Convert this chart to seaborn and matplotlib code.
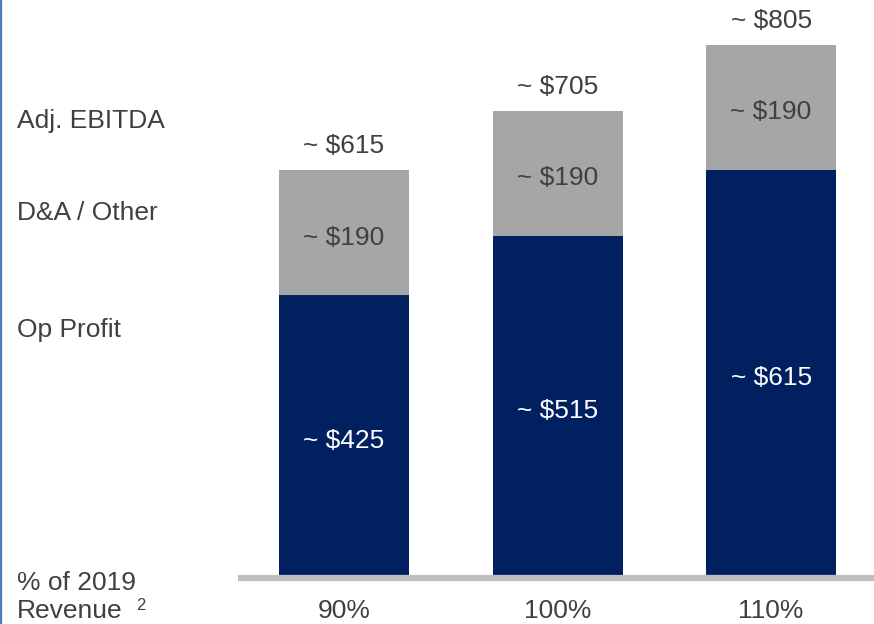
import matplotlib
matplotlib.use("Agg")
import matplotlib.pyplot as plt
import seaborn as sns
import pandas as pd
from matplotlib.lines import Line2D

# Scenario data (in $M)
scenarios = ["90%", "100%", "110%"]
op_profit = [425, 515, 615]
da_other = [190, 190, 190]
ebitda = [615, 705, 805]

row_labels = ["Adj. EBITDA", "D&A / Other", "Op Profit"]

NAVY = "#002060"
GREY = "#A6A6A6"
TEXT = "#404040"

sns.set_theme(style="white")
plt.rcParams["font.family"] = ["Liberation Sans", "DejaVu Sans"]

df = pd.DataFrame({
    "scenario": scenarios,
    "op_profit": op_profit,
    "da_other": da_other,
    "ebitda": [o + d for o, d in zip(op_profit, da_other)],
})

W, H = 874, 624
PX_PER_UNIT = 0.66
fig = plt.figure(figsize=(W / 100, H / 100), dpi=100)
ax_left = 238 / W
ax_bottom = (H - 576) / H
ax = fig.add_axes([ax_left, ax_bottom, 1 - ax_left, 1 - ax_bottom])

bar_w = 0.609
sns.barplot(data=df, x="scenario", y="ebitda", order=scenarios, color=GREY,
            width=bar_w, saturation=1, ax=ax)
sns.barplot(data=df, x="scenario", y="op_profit", order=scenarios, color=NAVY,
            width=bar_w, saturation=1, ax=ax)
for p in ax.patches:
    p.set_edgecolor("none")

ax.set_xlim(-0.4965, 2.482)
ax.set_ylim(0, 576 / PX_PER_UNIT)
ax.set_xlabel("")
ax.set_ylabel("")
ax.set_xticks([])
ax.set_yticks([])
for s in ax.spines.values():
    s.set_visible(False)

fs = 19
nudge = 5 / PX_PER_UNIT  # small downward optical offset for in-bar labels
for i, (op, da, tot) in enumerate(zip(op_profit, da_other, ebitda)):
    ax.text(i, op / 2 - nudge, f"~ ${op}", ha="center", va="center", color="white", fontsize=fs)
    ax.text(i, op + da / 2 - nudge, f"~ ${da}", ha="center", va="center", color=TEXT, fontsize=fs)
    ax.text(i, op + da + 36, f"~ ${tot}", ha="center", va="center", color=TEXT, fontsize=fs)
    ax.text(i, -53, scenarios[i], ha="center", va="center", color=TEXT,
            fontsize=fs, clip_on=False)

# baseline
ax.axhline(-3.5, xmin=0, xmax=1, color="#BFBFBF", lw=4.5, clip_on=False,
           solid_capstyle="butt")

# row labels on the left
for lbl, ypx in zip(row_labels, [121, 213, 330]):
    fig.text(17 / W, 1 - ypx / H, lbl, ha="left", va="center", color=TEXT, fontsize=fs)
fig.text(17 / W, 1 - 583 / H, "% of 2019", ha="left", va="center", color=TEXT, fontsize=fs)
fig.text(17 / W, 1 - 611 / H, "Revenue", ha="left", va="center", color=TEXT, fontsize=fs)
fig.text(136 / W, 1 - 606 / H, "2", ha="left", va="center", color=TEXT, fontsize=12)

# left border
fig.add_artist(Line2D([1 / W, 1 / W], [0, 1], color="#4A7EBB", lw=1.6,
                      transform=fig.transFigure))

fig.savefig("out.png", dpi=100)
